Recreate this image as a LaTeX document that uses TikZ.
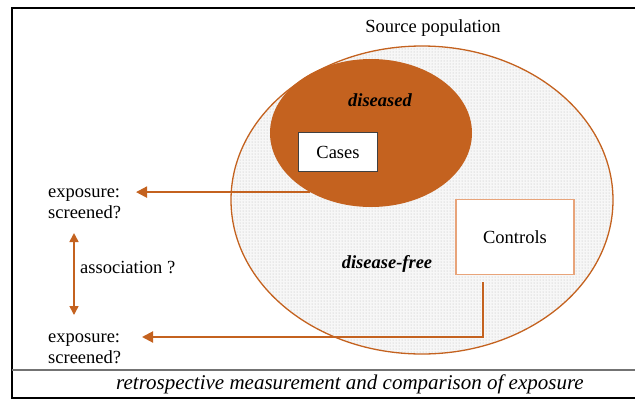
\documentclass[tikz,border=0pt]{standalone}
\usepackage{fontspec}
\setmainfont{Liberation Serif}
\usetikzlibrary{arrows.meta,shapes.geometric,patterns}
\definecolor{rust}{HTML}{C4621F}
\definecolor{rustlight}{HTML}{E8A47A}
\definecolor{dotgray}{HTML}{B8B8B8}
\tikzset{
  txt/.style={font=\fontsize{18.5}{20.5}\selectfont, inner sep=0pt, align=left},
  tag/.style={txt, font=\fontsize{18.5}{20.5}\selectfont\bfseries\itshape},
  flow/.style={-{Triangle[length=11pt,width=11pt]}, line width=2pt, draw=rust},
  assoc/.style={{Triangle[length=9pt,width=9pt]}-{Triangle[length=9pt,width=9pt]}, line width=1.6pt, draw=rust},
  casebox/.style={txt, draw=black!75, line width=1.1pt, fill=white, minimum width=79pt, minimum height=39pt},
  ctlbox/.style={txt, draw=rustlight, line width=1.8pt, fill=white, minimum width=118pt, minimum height=75pt},
  popfield/.style={ellipse, draw=rust, line width=1.3pt, preaction={fill=black!3},
    pattern=dots, pattern color=dotgray, inner sep=0pt}
}
\begin{document}
\begin{tikzpicture}[x=1pt, y=-1pt]
  \useasboundingbox (0,0) rectangle (635,400);
  % frame
  \draw[line width=1.2pt] (635,8) -- (12,8) -- (12,398) -- (635,398);
  \draw[black!55, line width=1.5pt] (12,370) -- (635,370);

  % source population
  \node[popfield, minimum width=382pt, minimum height=308pt] (pop) at (422,200) {};
  \node[txt] (poplbl) at (433,28) {Source population};
  \node[ellipse, fill=rust, inner sep=0pt, minimum width=202pt, minimum height=148pt] (sick) at (371,133) {};
  \node[tag] (sicklbl) at (380,100) {diseased};
  \node[casebox] (cases) at (338,152) {Cases};
  \node[ctlbox] (ctl) at (515,237) {Controls};
  \node[tag] (freelbl) at (387,264) {disease-free};

  % exposure side
  \node[txt, anchor=west] (exp1) at (48,204) {exposure:\\screened?};
  \node[txt, anchor=west] (exp2) at (48,349) {exposure:\\screened?};
  \node[txt, anchor=west] (asso) at (80,268) {association ?};
  \coordinate (tip1) at (136,192);
  \coordinate (tip2) at (142,337);
  \coordinate (a1) at (74,233);
  \coordinate (a2) at (74,315);
  \draw[flow] (sick.224) -- (tip1 |- sick.224);
  \draw[flow] ([xshift=28pt,yshift=-7pt]ctl.south west) |- (tip2);
  \draw[assoc] (a1) -- (a2);

  \node[txt, font=\fontsize{21}{24}\selectfont\itshape] (bottom) at (350,384)
    {retrospective measurement and comparison of exposure};
\end{tikzpicture}
\end{document}
